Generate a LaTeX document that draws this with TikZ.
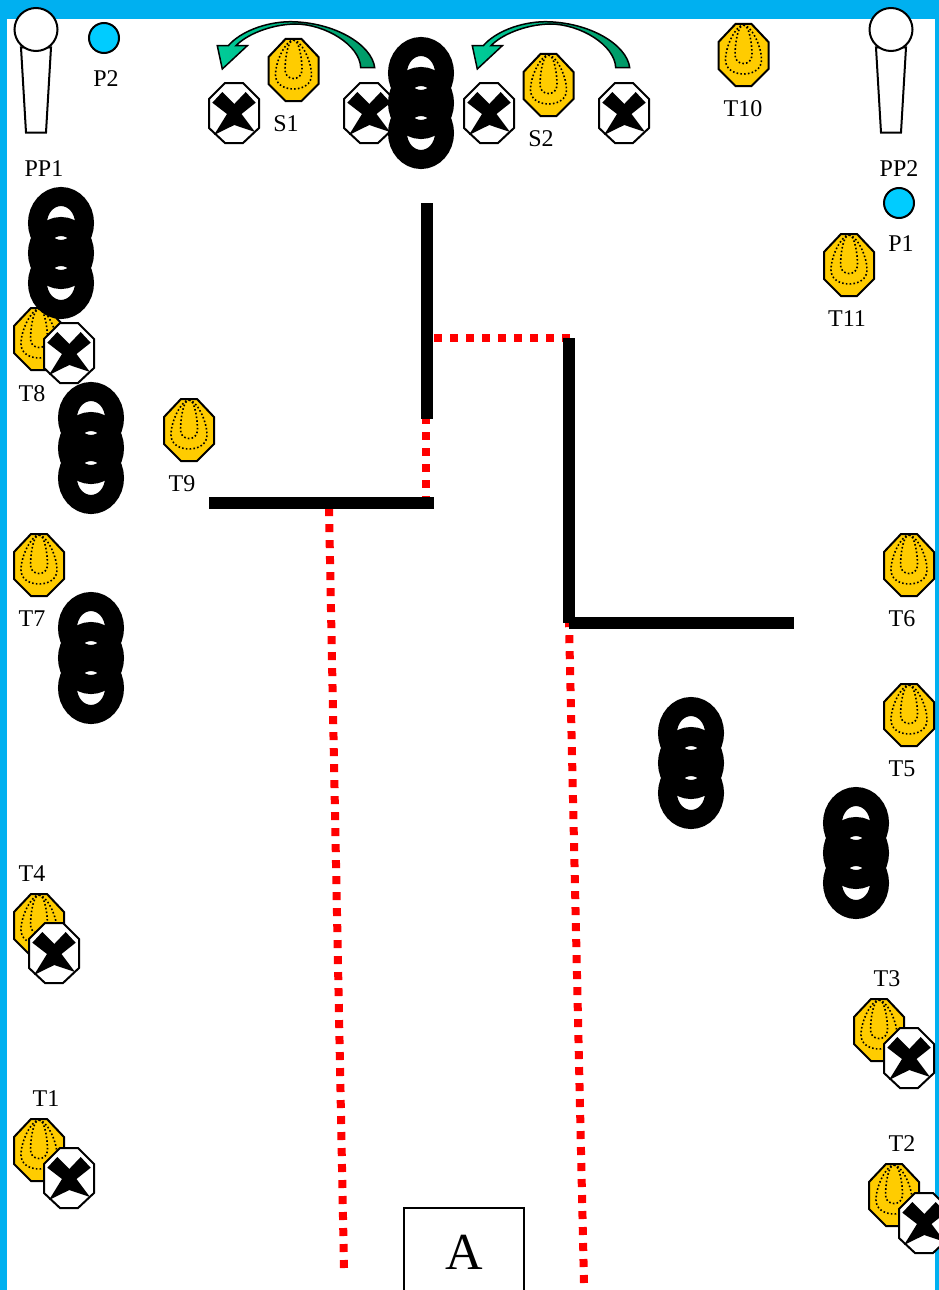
\documentclass[tikz,border=0pt]{standalone}
\usepackage{fontspec}
\setmainfont{Liberation Serif}
\definecolor{framecol}{HTML}{00B0F0}
\definecolor{plateblue}{HTML}{00CCFF}
\definecolor{targetcol}{HTML}{FFCC00}
\definecolor{arrowleft}{HTML}{00CC99}
\definecolor{arrowright}{HTML}{009966}
\definecolor{faultred}{HTML}{FF0000}
\tikzset{
    lbl/.style={font=\fontsize{24}{28}\selectfont, inner sep=0pt, yshift=-1pt},
    wall/.style={line width=12pt},
    fault/.style={faultred, line width=8pt, dash pattern=on 8pt off 8pt},
    edge/.style={black, line width=2pt},
    dots/.style={line width=1.6pt, dash pattern=on 1.6pt off 2.2pt},
    target/.pic={
        \draw[edge, fill=targetcol] (-8,-31) -- (8,-31) -- (25,-13) -- (25,14) -- (8,31) -- (-8,31) -- (-25,14) -- (-25,-13) -- cycle;
        \draw[dots] (0,-30) .. controls (7,-30) and (18,-10) .. (18,5) .. controls (18,13) and (11,19) .. (0,19) .. controls (-11,19) and (-18,13) .. (-18,5) .. controls (-18,-10) and (-7,-30) .. (0,-30);
        \draw[dots] (0,-30) .. controls (6,-30) and (8.5,-10) .. (8.5,0) .. controls (8.5,6) and (4,8.5) .. (0,8.5) .. controls (-4,8.5) and (-8.5,6) .. (-8.5,0) .. controls (-8.5,-10) and (-6,-30) .. (0,-30);
    },
    noshoot/.pic={
        \draw[edge, fill=white] (-9,-30) -- (9,-30) -- (25,-14) -- (25,15) -- (9,30) -- (-9,30) -- (-25,15) -- (-25,-14) -- cycle;
        \fill[black] (-21.7,-10.3) -- (-11.7,-21) -- (0.3,-9) -- (11.7,-21) -- (21.7,-10.3) -- (7.5,1) -- (21,19) -- (0.3,12) -- (-20,22) -- (-7,1) -- cycle;
    },
    barrel/.pic={
        \draw[line width=19pt] (0,36) ellipse (23.5 and 26.5);
        \draw[line width=19pt] (0,66) ellipse (23.5 and 26.5);
        \draw[line width=19pt] (0,96) ellipse (23.5 and 26.5);
    },
    popper/.pic={
        \draw[edge, fill=white] (-15,18) -- (-10,103) -- (10,103) -- (15,18) -- cycle;
        \draw[edge, fill=white] (0,0) circle (21.5);
    },
    swing/.pic={
        \draw[line width=1.5pt, left color=arrowleft, right color=arrowright] (374.7,67.7) .. controls (372,45) and (335,22) .. (290,21.7) .. controls (265,22) and (240,32) .. (228.3,45.7) -- (217.3,45.7) -- (222.3,69) -- (247.3,45.7) -- (236,45.7) .. controls (246,35) and (270,24.5) .. (295,24) .. controls (325,24) and (360,45) .. (360.7,67.7) -- cycle;
    }
}
\begin{document}
\begin{tikzpicture}[x=1pt, y=-1pt]
    \useasboundingbox (0,0) rectangle (939,1290);
    \clip (0,0) rectangle (939,1290);

    % frame
    \fill[framecol] (0,0) rectangle (939,19);
    \fill[framecol] (0,0) rectangle (7,1290);
    \fill[framecol] (935,0) rectangle (939,1290);

    % fault lines
    \draw[fault] (434,338) -- (570,338);
    \draw[fault] (426,416) -- (426,497);
    \draw[fault] (344,1268) -- (329,509);
    \draw[fault] (584,1283) -- (569,623);

    % walls
    \draw[wall] (427,203) -- (427,419);
    \draw[wall] (209,503) -- (434,503);
    \draw[wall] (569,338) -- (569,623);
    \draw[wall] (569,623) -- (794,623);

    % poppers and plates
    \pic (pp1) at (36,29.5) {popper};
    \pic (pp2) at (891,29.5) {popper};
    \draw[edge, fill=plateblue] (104,38) circle (15);
    \draw[edge, fill=plateblue] (899,203) circle (15);

    % swingers
    \pic (arrow1) at (0,0) {swing};
    \pic (arrow2) at (255,0) {swing};
    \pic (s1) at (293.5,70) {target};
    \pic (s2) at (548.5,85) {target};

    % targets
    \pic (t1) at (39,1150) {target};
    \pic (t2) at (894,1195) {target};
    \pic (t3) at (879,1030) {target};
    \pic (t4) at (39,925) {target};
    \pic (t5) at (909,715) {target};
    \pic (t6) at (909,565) {target};
    \pic (t7) at (39,565) {target};
    \pic (t8) at (39,339) {target};
    \pic (t9) at (189,430) {target};
    \pic (t10) at (743.5,55) {target};
    \pic (t11) at (849,265) {target};

    % no-shoots
    \pic (ns1) at (234,113) {noshoot};
    \pic (ns2) at (369,113) {noshoot};
    \pic (ns3) at (489,113) {noshoot};
    \pic (ns4) at (624,113) {noshoot};
    \pic (ns5) at (69,353) {noshoot};
    \pic (ns6) at (54,953) {noshoot};
    \pic (ns7) at (909,1058) {noshoot};
    \pic (ns8) at (924,1223) {noshoot};
    \pic (ns9) at (69,1178) {noshoot};

    % barrels
    \pic (b1) at (421,37) {barrel};
    \pic (b2) at (61,187) {barrel};
    \pic (b3) at (91,382) {barrel};
    \pic (b4) at (91,592) {barrel};
    \pic (b5) at (691,697) {barrel};
    \pic (b6) at (856,787) {barrel};

    % labels
    \node[lbl] (lp2) at (106,78) {P2};
    \node[lbl] (ls1) at (286,123) {S1};
    \node[lbl] (ls2) at (541,138) {S2};
    \node[lbl] (lt10) at (743,108) {T10};
    \node[lbl] (lpp1) at (44,168) {PP1};
    \node[lbl] (lpp2) at (899,168) {PP2};
    \node[lbl] (lp1) at (901,243) {P1};
    \node[lbl] (lt11) at (847,318) {T11};
    \node[lbl] (lt8) at (32,393) {T8};
    \node[lbl] (lt9) at (182,483) {T9};
    \node[lbl] (lt7) at (32,618) {T7};
    \node[lbl] (lt6) at (902,618) {T6};
    \node[lbl] (lt5) at (902,768) {T5};
    \node[lbl] (lt4) at (32,873) {T4};
    \node[lbl] (lt3) at (887,978) {T3};
    \node[lbl] (lt2) at (902,1143) {T2};
    \node[lbl] (lt1) at (46,1098) {T1};

    % start box
    \draw[line width=2pt] (404,1300) -- (404,1208) -- (524,1208) -- (524,1300);
    \node[font=\fontsize{52}{56}\selectfont, inner sep=0pt] (boxa) at (464,1252) {A};
\end{tikzpicture}
\end{document}
